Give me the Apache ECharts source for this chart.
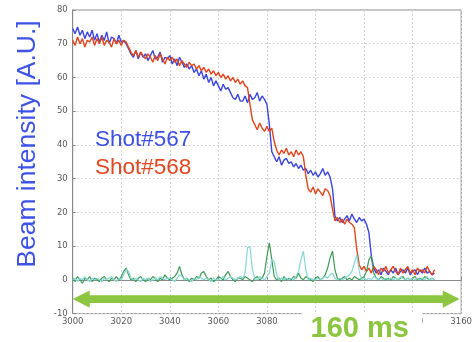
<!DOCTYPE html>
<html>
<head>
<meta charset="utf-8">
<script src="https://cdn.jsdelivr.net/npm/echarts@6/dist/echarts.min.js"></script>
<style>
html,body{margin:0;padding:0;background:#fff;}
#c{width:475px;height:342px;}
</style>
</head>
<body>
<div id="c"></div>
<script>
// Sampling: one value per ms starting at 3000 ms
const startTime = 3000;
const stepMs = 1;
const xTicks = [3000, 3020, 3040, 3060, 3080, 3100, 3120, 3140, 3160];
const yTicks = [-10, 0, 10, 20, 30, 40, 50, 60, 70, 80];

const shot567 = [
  74.5, 73, 75, 72.5, 74, 71.5, 73.5, 72, 74, 71,
  73, 70.5, 72.5, 71, 73.5, 70, 72, 71.5, 70, 72.5,
  70.5, 71, 70, 68.5, 67, 66, 68, 65.5, 67.5, 66,
  67, 65, 66.5, 68, 65.5, 66, 67.5, 64.5, 66, 65.5,
  66.5, 64, 65.5, 63.5, 66, 64.5, 63, 64, 62.5, 63.5,
  61.5, 62.5, 60.5, 62, 59.5, 61, 58.5, 60, 57.5, 59,
  57.5, 56, 58, 56.5, 57, 55.5, 54, 53.5, 55, 53,
  53, 54.5, 52.5, 55, 53.5, 54, 55.5, 53, 54.5, 53.5,
  52, 46, 38, 36.5, 35, 36.5, 34, 35.5, 36, 34.5,
  35, 33.5, 34.5, 33, 34, 32.5, 33, 31.5, 32.5, 31,
  32, 30.5, 31.5, 33, 31, 32, 30.5, 27, 19, 17.5,
  18.5, 17, 18, 19, 17.5, 19.5, 18, 17, 18.5, 17.5,
  18, 16.5, 14, 7, 3.5, 2, 3, 1.5, 3.5, 2.5,
  1.5, 3, 2, 3.5, 1.5, 2.5, 3, 2, 3.5, 1.5,
  2.5, 3, 1.5, 3, 2, 3.5, 2, 2.5, 1.5, 2
];
const shot568 = [
  71, 69.5, 72, 70, 71.5, 69, 71, 70.5, 72, 69.5,
  71.5, 70, 72, 69.5, 71, 70.5, 69, 71.5, 70, 71,
  69.5, 71, 70.5, 69, 67.5, 66.5, 68, 66, 67.5, 66.5,
  65.5, 67, 66, 64.5, 66.5, 65, 67, 65.5, 64, 66,
  65, 66, 64.5, 65.5, 63.5, 65, 64, 63, 64.5, 63.5,
  64, 62.5, 63.5, 62, 63, 61.5, 62.5, 61, 62, 60.5,
  61.5, 60, 61, 59.5, 60.5, 59, 60, 58.5, 59.5, 58,
  59, 57.5, 57, 52, 47.5, 46, 44.5, 46.5, 45, 44,
  45.5, 44, 45, 41, 38.5, 37, 38.5, 37.5, 39, 37,
  38, 36.5, 38.5, 37, 38, 36.5, 31, 27, 26, 27.5,
  25.5, 27, 26, 25, 27, 26.5, 25, 21, 17.5, 18.5,
  17, 18, 16.5, 18, 17, 16.5, 15.5, 9, 4.5, 3,
  4, 2.5, 3.5, 2, 4, 3, 1.5, 3.5, 2.5, 4,
  2, 3, 4, 2.5, 1.5, 3.5, 2, 3, 4, 2,
  3, 1.5, 3.5, 2.5, 3, 2, 4, 2.5, 1.5, 3
];
const loss567 = [
  0.5, -0.5, 1, 0, -1, 0.5, 0, 1, -0.5, 0.5,
  0, -0.5, 0.5, 1, 0, -0.5, 0.5, 0, 1, 0,
  1, 2.5, 3.5, 1.5, 0, 0.5, -0.5, 0.5, 1, 0,
  -0.5, 0.5, 0, 1, 0.5, -0.5, 0.5, 0, 1.5, 0.5,
  0, 0.5, 1, 2, 4, 1.5, 0, 0.5, -0.5, 0.5,
  0, 1, 0.5, 2, 2.5, 1, 0, 0.5, -0.5, 0,
  1, 0.5, 0, 1.5, 2.5, 1, 0, -0.5, 0.5, 0.5,
  0, 1, 0.5, 0, -0.5, 0.5, 1, 0, 0.5, 2,
  7, 11, 6, 1, 0, 0.5, -0.5, 1, 0, 0.5,
  0, 1, 0.5, 2, 0.5, 0, 1, 0.5, 0, -0.5,
  0.5, 1, 0, 0.5, 1.5, 3.5, 6.5, 8.5, 3, 0.5,
  0, 0.5, 1, 0, 0.5, 0, 1, 0.5, 0, 0.5,
  1, 2.5, 6, 7, 2, 0.5, 0, 1, 0.5, 0,
  0.5, 0, 1, 0.5, 0, 0.5, 1, 0, 0.5, 0,
  0.5, 1, 0, 0.5, 0, 1, 0.5, 0, 0.5, 0
];
const loss568 = [
  0, 0.5, -0.5, 0.5, 0, 1, 0, -0.5, 0.5, 0,
  0.5, 0, -0.5, 0.5, 0, 0.5, 1, 0, -0.5, 0.5,
  0, 1.5, 3, 2.5, 0.5, 0, 0.5, 0, -0.5, 0.5,
  0, 0.5, -0.5, 0, 0.5, 0, 1, 0.5, 0, 0.5,
  0.5, 0, -0.5, 0.5, 1.5, 1, 0, 0.5, 0, -0.5,
  0.5, 0, 1, 0.5, 0, 0.5, 0, -0.5, 0.5, 0,
  0, 0.5, 1, 0, 0.5, 1, 0.5, 0, 0.5, 1,
  0.5, 2, 9.5, 10, 3, 0.5, 0, 1, 0.5, 0,
  1, 2, 6, 5.5, 1.5, 0, 0.5, 0, 0.5, 0,
  0.5, 0, 1, 2.5, 6, 8.5, 3, 0, 0.5, 0,
  0, 0.5, 0, 0.5, 1, 0.5, 1.5, 2, 0.5, 0,
  0.5, 0, 0.5, 1, 1.5, 2.5, 5, 7.5, 2.5, 0,
  0.5, 0, 0.5, 0, 1, 0.5, 0, 0.5, 0, 0.5,
  0, 0.5, 0, 0.5, 0, 1, 0.5, 0, 0.5, 0,
  0.5, 0, 0.5, 0, 0.5, 0, 1, 0, 0.5, 0
];

const spanLabel = '160 ms';
const yTitle = 'Beam intensity [A.U.]';
const legend567 = 'Shot#567';
const legend568 = 'Shot#568';

function toPairs(vals) {
  return vals.map((v, i) => [startTime + i * stepMs, v]);
}

const chart = echarts.init(document.getElementById('c'), null, {renderer: 'canvas'});
const gridCol = '#d2d2d2';
const axisCol = '#8a8a8a';
const labelFont = {color: '#5a5a5a', fontSize: 8.5, fontFamily: 'DejaVu Sans'};
const plain = v => String(v);

chart.setOption({
  animation: false,
  backgroundColor: '#fff',
  grid: {left: 72.7, right: 9.3, top: 10, bottom: 28.4, show: true, borderColor: axisCol, borderWidth: 1, backgroundColor: 'transparent'},
  xAxis: {
    type: 'value', min: xTicks[0], max: xTicks[xTicks.length - 1], interval: 20,
    axisLine: {show: true, lineStyle: {color: axisCol}},
    axisTick: {show: true, inside: true, length: 3, lineStyle: {color: axisCol}},
    axisLabel: Object.assign({margin: 4, showMaxLabel: true, showMinLabel: true, formatter: plain}, labelFont),
    splitLine: {show: true, lineStyle: {color: gridCol, type: [2, 2], width: 1}}
  },
  yAxis: {
    type: 'value', min: yTicks[0], max: yTicks[yTicks.length - 1], interval: 10,
    axisLine: {show: true, lineStyle: {color: axisCol}},
    axisTick: {show: true, inside: true, length: 3, lineStyle: {color: axisCol}},
    axisLabel: Object.assign({margin: 5, formatter: plain}, labelFont),
    splitLine: {show: true, lineStyle: {color: gridCol, type: [2, 2], width: 1}}
  },
  series: [
    {name: legend567, type: 'line', data: toPairs(shot567), showSymbol: false, lineStyle: {color: '#3a45e0', width: 1.4}, z: 3},
    {name: legend568, type: 'line', data: toPairs(shot568), showSymbol: false, lineStyle: {color: '#e2441c', width: 1.4}, z: 4},
    {name: 'loss567', type: 'line', data: toPairs(loss567), showSymbol: false, lineStyle: {color: '#3f9a55', width: 1.2}, z: 5},
    {name: 'loss568', type: 'line', data: toPairs(loss568), showSymbol: false, lineStyle: {color: '#86d8d4', width: 1.2}, z: 6}
  ]
});

// annotations anchored to data coordinates
const pL = chart.convertToPixel({gridIndex: 0}, [3000, -5.7]);
const pR = chart.convertToPixel({gridIndex: 0}, [3159.4, -5.7]);
const hs = 3.8, hh = 8.6, hl = 17;
const cy = pL[1];
const arrowPts = [
  [pL[0], cy], [pL[0] + hl, cy - hh], [pL[0] + hl, cy - hs], [pR[0] - hl, cy - hs],
  [pR[0] - hl, cy - hh], [pR[0], cy], [pR[0] - hl, cy + hh], [pR[0] - hl, cy + hs],
  [pL[0] + hl, cy + hs], [pL[0] + hl, cy + hh]
];
const cover0 = chart.convertToPixel({gridIndex: 0}, [3094.6, -10]);
const cover1 = chart.convertToPixel({gridIndex: 0}, [3144, -10]);
const txtC = chart.convertToPixel({gridIndex: 0}, [3118.2, -10]);

chart.setOption({
  graphic: [
    {type: 'rect', z: 100, shape: {x: cover0[0], y: cover0[1] - 0.5, width: cover1[0] - cover0[0], height: 342 - cover0[1] + 1}, style: {fill: '#fff'}},
    {type: 'polygon', z: 101, shape: {points: arrowPts}, style: {fill: '#8cc540'}},
    {type: 'text', z: 102, x: txtC[0], y: txtC[1] + 15.5, style: {text: spanLabel, fill: '#8cc540', font: 'bold 29px "Liberation Sans", Arial, sans-serif', align: 'center', verticalAlign: 'middle'}},
    {type: 'text', z: 102, x: 28, y: 144, rotation: Math.PI / 2, style: {text: yTitle, fill: '#3d52e6', font: '26.5px "Liberation Sans", Arial, sans-serif', align: 'center', verticalAlign: 'middle'}},
    {type: 'text', z: 102, x: 95, y: 140, style: {text: legend567, fill: '#3d4fe4', font: '22.5px "Liberation Sans", Arial, sans-serif', align: 'left', verticalAlign: 'middle'}},
    {type: 'text', z: 102, x: 95, y: 168, style: {text: legend568, fill: '#e2471f', font: '22.5px "Liberation Sans", Arial, sans-serif', align: 'left', verticalAlign: 'middle'}}
  ]
});
</script>
</body>
</html>
